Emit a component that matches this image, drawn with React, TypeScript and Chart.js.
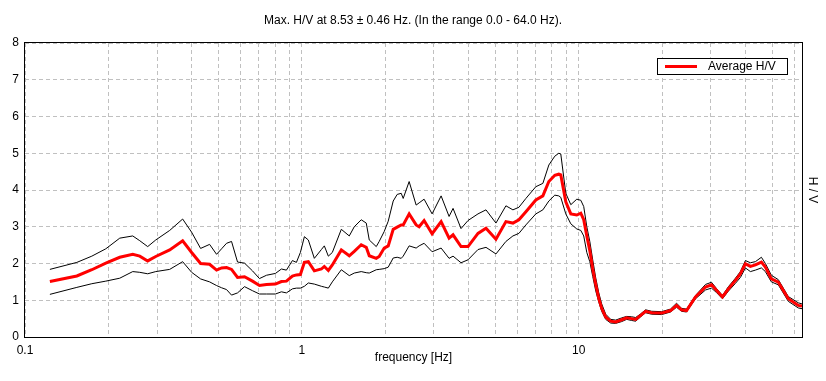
import { useEffect, useRef } from "react";
import { Chart, registerables } from "chart.js";

Chart.register(...registerables);

const FONT = "'Liberation Sans', Arial, sans-serif";

const titleText = "Max. H/V at 8.53 \u00b1 0.46 Hz. (In the range 0.0 - 64.0 Hz).";
const xAxisTitle = "frequency [Hz]";
const yAxisTitle = "H / V";
const legendLabel = "Average H/V";

const frequencies = [
  0.123, 0.1539, 0.1743, 0.1958, 0.2199, 0.245, 0.2597, 0.2774, 0.2966, 0.3331,
  0.371, 0.3998, 0.4307, 0.4642, 0.4919, 0.5128, 0.5345, 0.5571, 0.5856, 0.6206,
  0.6631, 0.7027, 0.745, 0.8025, 0.8434, 0.8793, 0.9243, 0.9554, 0.9876, 1.021,
  1.055, 1.109, 1.176, 1.205, 1.246, 1.288, 1.388, 1.483, 1.546, 1.638,
  1.708, 1.751, 1.856, 1.902, 1.983, 2.05, 2.137, 2.209, 2.284, 2.322,
  2.44, 2.586, 2.651, 2.763, 2.953, 3.183, 3.401, 3.515, 3.756, 3.981,
  4.325, 4.623, 5.022, 5.456, 5.783, 6.079, 6.442, 6.998, 7.418, 7.796,
  8.191, 8.468, 8.611, 8.976, 9.359, 9.836, 10.17, 10.42, 10.69, 10.96,
  11.23, 11.52, 11.81, 12.1, 12.51, 13.04, 13.59, 14.29, 14.89, 15.52,
  16.05, 16.73, 17.43, 18.33, 19.91, 21.45, 22.55, 23.5, 24.5, 26.4,
  28.69, 30.15, 31.43, 33.03, 34.71, 36.79, 38.35, 39.98, 41.67, 43.44,
  45.66, 47.2, 49.61, 52.56, 57.12, 62.06, 64.0,
];

const averageHV = [
  1.51, 1.66, 1.83, 2.01, 2.17, 2.25, 2.2, 2.07, 2.19, 2.37,
  2.62, 2.3, 2.0, 1.98, 1.82, 1.88, 1.89, 1.84, 1.62, 1.64,
  1.52, 1.4, 1.43, 1.44, 1.51, 1.52, 1.66, 1.69, 1.7, 2.03,
  2.05, 1.8, 1.85, 1.92, 1.81, 1.96, 2.37, 2.21, 2.33, 2.51,
  2.44, 2.21, 2.14, 2.19, 2.42, 2.48, 2.93, 2.99, 3.05, 3.05,
  3.35, 3.05, 3.0, 3.17, 2.81, 3.14, 2.69, 2.78, 2.46, 2.46,
  2.82, 2.96, 2.66, 3.14, 3.1, 3.19, 3.41, 3.73, 3.84, 4.23,
  4.4, 4.43, 4.41, 3.68, 3.35, 3.32, 3.37, 3.19, 2.75, 2.35,
  1.85, 1.42, 1.05, 0.78, 0.54, 0.43, 0.41, 0.47, 0.52, 0.5,
  0.48, 0.59, 0.7, 0.66, 0.65, 0.72, 0.86, 0.74, 0.72, 1.09,
  1.36, 1.42, 1.27, 1.09, 1.31, 1.54, 1.72, 1.99, 1.92, 1.96,
  2.04, 1.9, 1.58, 1.49, 1.04, 0.86, 0.84,
];

const upperHV = [
  1.84, 2.03, 2.2, 2.4, 2.69, 2.75, 2.62, 2.46, 2.64, 2.9,
  3.21, 2.85, 2.41, 2.52, 2.25, 2.4, 2.55, 2.6, 2.04, 2.01,
  1.8, 1.59, 1.68, 1.73, 1.85, 1.82, 2.08, 2.03, 2.3, 2.73,
  2.64, 2.14, 2.38, 2.48, 2.2, 2.3, 2.93, 2.75, 3.0, 3.19,
  3.1, 2.64, 2.46, 2.6, 2.87, 3.15, 3.7, 3.88, 3.91, 3.77,
  4.23, 3.59, 3.65, 3.75, 3.35, 3.84, 3.28, 3.5, 2.95, 3.17,
  3.35, 3.46, 3.1, 3.57, 3.46, 3.53, 3.77, 4.09, 4.18, 4.68,
  4.92, 5.0, 4.98, 3.91, 3.6, 3.75, 3.72, 3.55, 3.0, 2.6,
  2.1, 1.6, 1.2, 0.9, 0.62, 0.48, 0.46, 0.52, 0.56, 0.55,
  0.53, 0.63, 0.74, 0.7, 0.69, 0.76, 0.92, 0.78, 0.76, 1.13,
  1.43, 1.49, 1.32, 1.13, 1.37, 1.6, 1.78, 2.08, 2.02, 2.05,
  2.17, 2.0, 1.68, 1.56, 1.1, 0.93, 0.9,
];

const lowerHV = [
  1.16, 1.35, 1.45, 1.52, 1.6, 1.78, 1.76, 1.72, 1.78, 1.84,
  2.05, 1.76, 1.58, 1.5, 1.4, 1.34, 1.29, 1.14, 1.2, 1.37,
  1.26, 1.17, 1.17, 1.17, 1.23, 1.2, 1.31, 1.33, 1.33, 1.38,
  1.47, 1.44, 1.38, 1.36, 1.33, 1.5, 1.83, 1.67, 1.74, 1.78,
  1.75, 1.74, 1.83, 1.84, 1.86, 1.9, 2.15, 2.17, 2.14, 2.2,
  2.48, 2.42, 2.48, 2.55, 2.32, 2.42, 2.14, 2.2, 2.02, 2.1,
  2.38, 2.44, 2.26, 2.6, 2.75, 2.82, 3.05, 3.35, 3.46, 3.7,
  3.86, 3.84, 3.8, 3.35, 3.08, 2.94, 2.9, 2.75, 2.3, 2.05,
  1.65, 1.25, 0.95, 0.7, 0.48, 0.38, 0.37, 0.42, 0.48, 0.45,
  0.43, 0.55, 0.66, 0.62, 0.61, 0.68, 0.81, 0.7, 0.68, 1.04,
  1.28, 1.33, 1.21, 1.04, 1.25, 1.46, 1.62, 1.88, 1.78, 1.82,
  1.88, 1.78, 1.5, 1.42, 0.97, 0.79, 0.77,
];

const xGridValues = [
  0.1, 0.2, 0.3, 0.4, 0.5, 0.6, 0.7, 0.8, 0.9,
  1, 2, 3, 4, 5, 6, 7, 8, 9,
  10, 20, 30, 40, 50, 60,
];
const xLabelValues = [0.1, 1, 10];
const yMin = 0;
const yMax = 8;
const yStep = 1;

const toPoints = (ys: number[]) => frequencies.map((f, i) => ({ x: f, y: ys[i] }));

const framePlugin = {
  id: "frameAndLegend",
  afterDatasetsDraw(chart: any) {
    const { ctx, chartArea: ca } = chart;
    ctx.save();
    // frame
    ctx.strokeStyle = "#000";
    ctx.lineWidth = 1;
    ctx.setLineDash([]);
    ctx.strokeRect(ca.left - 0.5, ca.top - 0.5, ca.right - ca.left + 1, ca.bottom - ca.top + 1);
    // legend box
    const boxW = 130;
    const boxH = 16;
    const boxLeft = ca.right - 15 - boxW;
    const boxTop = ca.top + 15;
    ctx.fillStyle = "#fff";
    ctx.fillRect(boxLeft, boxTop, boxW, boxH);
    ctx.strokeRect(boxLeft + 0.5, boxTop + 0.5, boxW, boxH);
    const midY = boxTop + boxH / 2 + 0.5;
    ctx.strokeStyle = "#ff0000";
    ctx.lineWidth = 3;
    ctx.beginPath();
    ctx.moveTo(boxLeft + 8, midY);
    ctx.lineTo(boxLeft + 40, midY);
    ctx.stroke();
    ctx.fillStyle = "#000";
    ctx.font = `12px ${FONT}`;
    ctx.textBaseline = "middle";
    ctx.textAlign = "left";
    ctx.fillText(chart.data.datasets[0].label, boxLeft + 51, midY);
    ctx.restore();
  },
};

export default function App() {
  const ref = useRef<HTMLCanvasElement>(null);
  useEffect(() => {
    document.body.style.margin = "0";
    const canvas = ref.current!;
    const font = { family: FONT, size: 12, weight: "normal" as const };
    const gridColor = "#c0c0c0";
    const chart = new Chart(canvas, {
      type: "line",
      data: {
        datasets: [
          {
            label: legendLabel,
            data: toPoints(averageHV),
            borderColor: "#ff0000",
            borderWidth: 3,
            pointRadius: 0,
            tension: 0,
            order: 0,
          },
          {
            label: "Upper",
            data: toPoints(upperHV),
            borderColor: "#000000",
            borderWidth: 1,
            pointRadius: 0,
            tension: 0,
            order: 1,
          },
          {
            label: "Lower",
            data: toPoints(lowerHV),
            borderColor: "#000000",
            borderWidth: 1,
            pointRadius: 0,
            tension: 0,
            order: 1,
          },
        ],
      },
      options: {
        animation: false,
        responsive: false,
        layout: { padding: 0 },
        plugins: {
          legend: { display: false },
          tooltip: { enabled: false },
          title: {
            display: true,
            text: titleText,
            color: "#000",
            font,
            padding: { top: 13, bottom: 15.6 },
          },
        },
        scales: {
          x: {
            type: "logarithmic",
            position: "bottom",
            min: 0.1,
            max: 64,
            afterBuildTicks: (s: any) => {
              s.ticks = xGridValues.map((v) => ({ value: v }));
            },
            afterFit: (s: any) => {
              s.height = 44;
            },
            ticks: {
              autoSkip: false,
              maxRotation: 0,
              color: "#000",
              font,
              padding: 6,
              callback: (v: any) => (xLabelValues.includes(v) ? String(v) : ""),
            },
            grid: { color: gridColor, lineWidth: 1, drawTicks: false },
            border: { display: false, dash: [4, 3] },
            title: {
              display: true,
              text: xAxisTitle,
              color: "#000",
              font,
              padding: { top: 0, bottom: 16 },
            },
          },
          y: {
            type: "linear",
            position: "left",
            min: yMin,
            max: yMax,
            afterFit: (s: any) => {
              s.width = 25;
            },
            ticks: { stepSize: yStep, color: "#000", font, padding: 6 },
            grid: { color: gridColor, lineWidth: 1, drawTicks: false },
            border: { display: false, dash: [4, 3] },
          },
          y2: {
            type: "linear",
            position: "right",
            min: yMin,
            max: yMax,
            afterFit: (s: any) => {
              s.width = 24;
            },
            ticks: { display: false },
            grid: { display: false, drawTicks: false },
            border: { display: false },
            title: {
              display: true,
              text: yAxisTitle,
              color: "#000",
              font,
              padding: { top: 6, bottom: 0 },
            },
          },
        },
      },
      plugins: [framePlugin],
    });
    return () => chart.destroy();
  }, []);
  return <canvas ref={ref} width={826} height={381} style={{ display: "block" }} />;
}
